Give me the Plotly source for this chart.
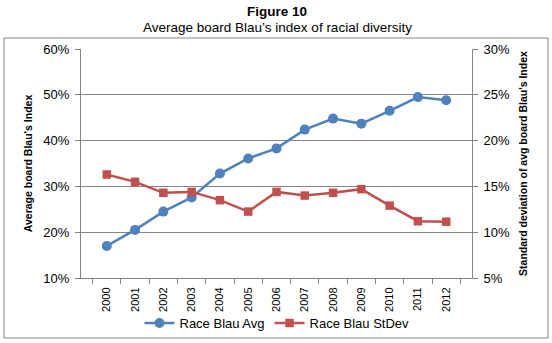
import plotly.graph_objects as go

years = [str(y) for y in range(2000, 2013)]
race_avg = [0.170, 0.205, 0.245, 0.276, 0.328, 0.361, 0.383, 0.424, 0.448, 0.437, 0.465, 0.495, 0.488]
race_sd = [0.163, 0.155, 0.143, 0.144, 0.135, 0.1225, 0.144, 0.140, 0.143, 0.147, 0.129, 0.112, 0.1115]

W, H = 552, 343
L, R, T, B = 81, 472, 49, 278
pw, ph = R - L, B - T

def px(x):
    return (x - L) / pw

def py(y):
    return (B - y) / ph

font = "Liberation Sans, Arial, sans-serif"
grey = "#868686"

fig = go.Figure()
fig.add_trace(go.Scatter(x=years, y=race_avg, name="Race Blau Avg", mode="lines+markers",
                         line=dict(color="#4F81BD", width=2.5),
                         marker=dict(symbol="circle", size=10, color="#4F81BD")))
fig.add_trace(go.Scatter(x=years, y=race_sd, name="Race Blau StDev", mode="lines+markers",
                         yaxis="y2",
                         line=dict(color="#C0504D", width=2.5),
                         marker=dict(symbol="square", size=8.5, color="#C0504D")))

fig.update_layout(
    width=W, height=H,
    margin=dict(l=L, r=W - R, t=T, b=H - B, autoexpand=False),
    paper_bgcolor="white", plot_bgcolor="white",
    font=dict(family=font, size=11, color="black"),
    showlegend=True,
    legend=dict(orientation="h", x=px(277), xanchor="center", y=py(323), yanchor="middle",
                font=dict(size=13), bgcolor="rgba(0,0,0,0)", itemwidth=30),
    xaxis=dict(type="category", tickangle=-90, showgrid=False, ticks="outside",
               tickson="boundaries", ticklen=5, tickcolor=grey, ticklabelstandoff=4,
               showline=True, linecolor=grey, linewidth=1, mirror=False, automargin=False,
               tickfont=dict(size=11)),
    yaxis=dict(range=[0.10, 0.60], dtick=0.10, tickformat=".0%", showgrid=True,
               gridcolor=grey, gridwidth=1, showline=True, linecolor=grey,
               ticks="outside", ticklen=5, tickcolor=grey, zeroline=False, automargin=False,
               ticklabelstandoff=3, tickfont=dict(size=13),
               title=dict(text="<b>Average board Blau's Index</b>", font=dict(size=10.5), standoff=8)),
    yaxis2=dict(range=[0.05, 0.30], dtick=0.05, tickformat=".0%", overlaying="y", side="right",
                showgrid=False, showline=True, linecolor=grey, ticks="outside",
                ticklen=5, tickcolor=grey, zeroline=False, tickfont=dict(size=13),
                ticklabelstandoff=3, automargin=False,
                title=dict(text="<b>Standard deviation of avg board Blau's Index</b>",
                           font=dict(size=10.5), standoff=10)),
    shapes=[dict(type="rect", xref="paper", yref="paper",
                 x0=px(4), x1=px(548), y0=py(338), y1=py(38),
                 line=dict(color=grey, width=1), fillcolor="rgba(0,0,0,0)", layer="below")],
    annotations=[
        dict(text="<b>Figure 10</b>", xref="paper", yref="paper", x=px(277), y=py(11),
             showarrow=False, font=dict(size=13.5), xanchor="center", yanchor="middle"),
        dict(text="Average board Blau\u2019s index of racial diversity", xref="paper", yref="paper",
             x=px(277), y=py(27), showarrow=False, font=dict(size=13.5),
             xanchor="center", yanchor="middle"),
    ],
)

fig.write_html("out.html", config={"displayModeBar": False},
               post_script="document.body.style.margin='0';")
